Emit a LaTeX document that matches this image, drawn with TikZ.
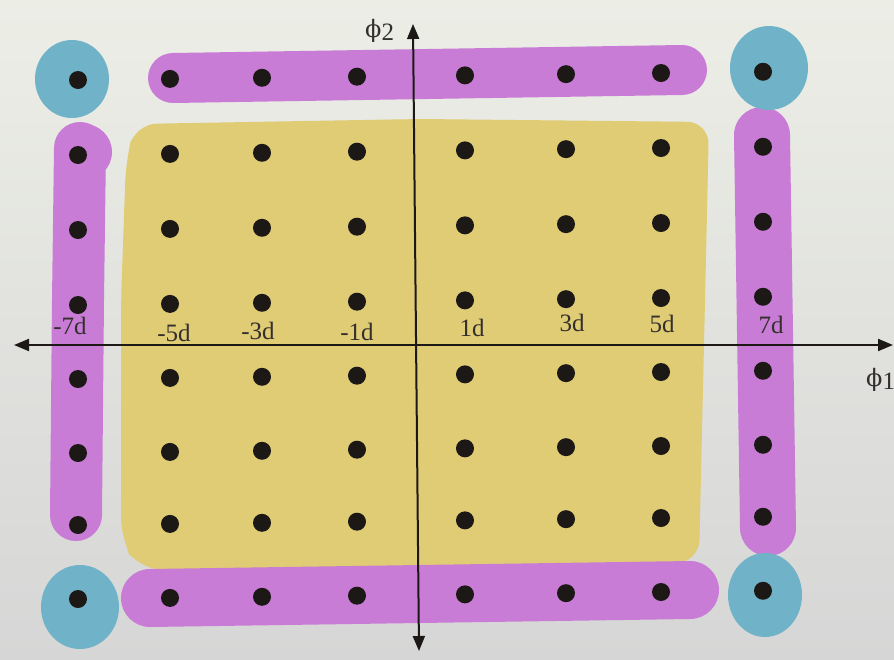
\documentclass[tikz,border=0pt]{standalone}
\usepackage{fontspec}
\setmainfont{Liberation Serif}
\newfontfamily\phifont{DejaVu Serif}
\usetikzlibrary{arrows.meta}
\definecolor{hlmag}{RGB}{200,124,214}
\definecolor{hlcyan}{RGB}{112,178,200}
\definecolor{hlyel}{RGB}{224,204,116}
\definecolor{inkc}{RGB}{28,24,22}
\begin{document}
\begin{tikzpicture}[x=1pt,y=-1pt,
  dot/.style={circle,fill=inkc,inner sep=0pt,minimum size=18pt},
  hlm/.style={draw=hlmag,line cap=round,line join=round},
  hlc/.style={fill=hlcyan},
  lab/.style={font=\fontsize{25}{28}\selectfont,text=inkc!90,inner sep=0pt},
  axisline/.style={draw=inkc,line width=2pt,{Triangle[length=15pt,width=12pt]}-{Triangle[length=15pt,width=12pt]}}]
\useasboundingbox (0,0) rectangle (894,660);
\shade[top color={rgb,255:red,236;green,238;blue,230},bottom color={rgb,255:red,214;green,214;blue,214}] (0,0) rectangle (894,660);
% yellow highlight
\fill[hlyel,rounded corners=22pt] (135,124) -- (420,119) -- (709,122) -- (705,300) -- (699,562) -- (500,572) -- (138,569) -- (121,540) -- (121,300) -- (126,160) -- cycle;
% magenta strips
\draw[hlm,line width=50pt] (173,78) -- (682,70);
\draw[hlm,line width=58pt] (150,598) -- (690,590);
\draw[hlm,line width=52pt] (80,148) -- (78,300) -- (76,515);
\fill[hlmag] (84,152) circle (28pt);
\draw[hlm,line width=56pt] (762,135) -- (768,528);
% cyan blobs
\fill[hlc] (72,79) ellipse (37pt and 39pt);
\fill[hlc] (769,68) ellipse (39pt and 42pt);
\fill[hlc] (80,607) ellipse (39pt and 42pt);
\fill[hlc] (765,595) ellipse (37pt and 42pt);
% axes
\coordinate (xl) at (14,345);
\coordinate (xr) at (893,345);
\coordinate (yt) at (413,24);
\coordinate (yb) at (419,651);
\draw[axisline] (xl) -- (xr);
\draw[axisline] (yb) -- (yt);
% constellation points
\foreach \c [count=\i] in {78,170,262,357,465,566,661,763} {
  \foreach \r [count=\j] in {76,151,226,301,375,449,521,595} {
    \pgfmathsetmacro\yy{\r-0.012*(\c-412)}
    \node[dot] (p\i-\j) at (\c,\yy) {};
  }}
% labels
\node[lab] (l1) at (70,326) {-7d};
\node[lab] (l2) at (174,333) {-5d};
\node[lab] (l3) at (258,331) {-3d};
\node[lab] (l4) at (357,332) {-1d};
\node[lab] (l5) at (472,328) {1d};
\node[lab] (l6) at (572,323) {3d};
\node[lab] (l7) at (662,324) {5d};
\node[lab] (l8) at (771,325) {7d};
\node[lab,anchor=west] (phi2) at (365,31) {{\phifont\fontsize{24}{28}\selectfont ϕ}\raisebox{-3pt}{2}};
\node[lab,anchor=west] (phi1) at (866,380) {{\phifont\fontsize{24}{28}\selectfont ϕ}\raisebox{-3pt}{1}};
\end{tikzpicture}
\end{document}
